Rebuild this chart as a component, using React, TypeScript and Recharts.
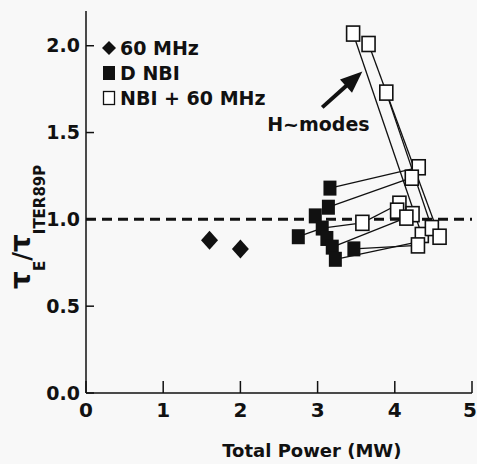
import { ComposedChart, XAxis, YAxis, Scatter, ReferenceLine, Legend } from 'recharts';

const FONT = "'DejaVu Sans', 'Liberation Sans', Arial, sans-serif";
const INK = '#111';
const PAPER = '#f8f8f8';

// 60 MHz only
const rfPower = [1.6, 2.0];
const rfTau = [0.88, 0.83];

// D NBI only
const nbiPower = [3.16, 3.14, 2.97, 2.75, 3.06, 3.12, 3.19, 3.23, 3.47];
const nbiTau = [1.18, 1.07, 1.02, 0.9, 0.95, 0.89, 0.84, 0.77, 0.83];

// NBI + 60 MHz
const comboPower = [3.46, 3.66, 3.89, 3.58, 4.31, 4.22, 4.06, 4.03, 4.23, 4.15, 4.35, 4.48, 4.58, 4.3];
const comboTau = [2.07, 2.01, 1.73, 0.98, 1.3, 1.24, 1.09, 1.05, 1.03, 1.01, 0.91, 0.95, 0.9, 0.85];

// lines joining a shot before / after the rf was added
const linkFromPower = [3.16, 3.14, 2.75, 3.06, 3.58, 3.19, 3.47, 3.23, 3.46, 3.66, 3.89];
const linkFromTau = [1.18, 1.07, 0.9, 0.95, 0.98, 0.84, 0.83, 0.77, 2.07, 2.01, 1.73];
const linkToPower = [4.31, 4.22, 3.06, 3.58, 4.06, 4.15, 4.3, 4.3, 4.35, 4.58, 4.48];
const linkToTau = [1.3, 1.24, 0.95, 0.98, 1.09, 1.01, 0.85, 0.87, 0.91, 0.9, 0.95];

const xTicks = [0, 1, 2, 3, 4, 5];
const yTicks = [0, 0.5, 1.0, 1.5, 2.0];

const legendLabels = ['60 MHz', 'D NBI', 'NBI + 60 MHz'];

// "H~modes" note and its arrow (tail -> tip)
const noteText = 'H~modes';
const notePower = 3.01;
const noteTau = 1.55;
const arrowPower = [3.06, 3.58];
const arrowTau = [1.645, 1.852];

const toPoints = (xs: number[], ys: number[]) => xs.map((x, i) => ({ x, y: ys[i] }));

const rfData = toPoints(rfPower, rfTau);
const nbiData = toPoints(nbiPower, nbiTau);
const comboData = toPoints(comboPower, comboTau);
const links = linkFromPower.map((x, i) => [
  { x, y: linkFromTau[i] },
  { x: linkToPower[i], y: linkToTau[i] },
]);

const Diamond = ({ cx, cy }: any) => (
  <polygon
    points={`${cx},${cy - 9.5} ${cx + 8.5},${cy} ${cx},${cy + 9.5} ${cx - 8.5},${cy}`}
    fill={INK}
  />
);

const FilledBox = ({ cx, cy }: any) => <rect x={cx - 6.5} y={cy - 7.5} width={13} height={15} fill={INK} />;

const OpenBox = ({ cx, cy }: any) => (
  <rect x={cx - 6.5} y={cy - 7.5} width={13} height={15} fill="#fff" stroke={INK} strokeWidth={1.6} />
);

const Arrow = ({ x1, y1, x2, y2 }: any) => {
  const dx = x2 - x1;
  const dy = y2 - y1;
  const len = Math.hypot(dx, dy);
  const ux = dx / len;
  const uy = dy / len;
  const head = 22;
  const half = 9;
  const bx = x2 - ux * head;
  const by = y2 - uy * head;
  return (
    <g>
      <line x1={x1} y1={y1} x2={bx + ux * 2} y2={by + uy * 2} stroke={INK} strokeWidth={4} />
      <polygon
        points={`${x2},${y2} ${bx - uy * half},${by + ux * half} ${bx + uy * half},${by - ux * half}`}
        fill={INK}
      />
    </g>
  );
};

// keep the last label ("5") inside the page edge
const XTick = ({ x, y, payload }: any) => (
  <text
    x={Math.min(x, 470)}
    y={y}
    dy="0.71em"
    textAnchor="middle"
    fill={INK}
    fontFamily={FONT}
    fontWeight="bold"
    fontSize={20}
  >
    {payload.value}
  </text>
);

const LegendIcon = ({ i }: { i: number }) => (
  <svg width={16} height={18} style={{ display: 'block' }}>
    {i === 0 && <polygon points="8,2 15,9 8,16 1,9" fill={INK} />}
    {i === 1 && <rect x={2} y={2} width={12} height={14} fill={INK} />}
    {i === 2 && <rect x={2.5} y={2.5} width={11} height={13} fill="#fff" stroke={INK} strokeWidth={1.3} />}
  </svg>
);

const renderLegend = () => (
  <div style={{ fontFamily: FONT, fontWeight: 'bold', fontSize: 19, color: INK }}>
    {legendLabels.map((label, i) => (
      <div key={label} style={{ display: 'flex', alignItems: 'center', height: 25 }}>
        <LegendIcon i={i} />
        <span style={{ marginLeft: 3 }}>{label}</span>
      </div>
    ))}
  </div>
);

const axisStyle = { stroke: INK, strokeWidth: 1.5 };

export default function App() {
  return (
    <div style={{ position: 'absolute', left: 0, top: 0, width: 477, height: 464, background: PAPER }}>
      <ComposedChart width={477} height={464} margin={{ top: 11, right: 5, bottom: 0, left: 0 }}>
        <XAxis
          type="number"
          dataKey="x"
          domain={[0, 5]}
          ticks={xTicks}
          height={71}
          tickSize={-12}
          tickMargin={22}
          axisLine={axisStyle}
          tickLine={axisStyle}
          tick={<XTick />}
          label={{
            content: ({ viewBox }: any) => (
              <text
                x={viewBox.x + viewBox.width * 0.585}
                y={viewBox.y + 64}
                textAnchor="middle"
                fill={INK}
                fontFamily={FONT}
                fontWeight="bold"
                fontSize={18}
              >
                Total Power (MW)
              </text>
            ),
          }}
        />
        <XAxis
          xAxisId="top"
          orientation="top"
          type="number"
          domain={[0, 5]}
          ticks={[1, 2, 3, 4]}
          height={0}
          mirror
          tickSize={14}
          tickFormatter={() => ''}
          axisLine={axisStyle}
          tickLine={axisStyle}
        />
        <YAxis
          type="number"
          dataKey="y"
          domain={[0, 2.2]}
          ticks={yTicks}
          width={86}
          tickSize={-8}
          tickMargin={14}
          axisLine={axisStyle}
          tickLine={axisStyle}
          tickFormatter={(v: number) => v.toFixed(1)}
          tick={{ fill: INK, fontFamily: FONT, fontWeight: 'bold', fontSize: 19 }}
          label={{
            content: ({ viewBox }: any) => {
              const cy = viewBox.y + viewBox.height * 0.565;
              return (
                <text
                  transform={`translate(30, ${cy}) rotate(-90)`}
                  textAnchor="middle"
                  fill={INK}
                  fontFamily={FONT}
                  fontWeight="bold"
                >
                  <tspan fontSize={28}>τ</tspan>
                  <tspan fontSize={15} dy={15}>E</tspan>
                  <tspan fontSize={24} dy={-15}>/</tspan>
                  <tspan fontSize={28}>τ</tspan>
                  <tspan fontSize={15} dy={15}>ITER89P</tspan>
                </text>
              );
            },
          }}
        />
        <YAxis
          yAxisId="right"
          orientation="right"
          type="number"
          domain={[0, 2.2]}
          ticks={[0.5, 1, 1.5, 2]}
          width={0}
          mirror
          tickSize={13}
          tickFormatter={() => ''}
          axisLine={{ stroke: INK, strokeWidth: 2 }}
          tickLine={axisStyle}
        />

        <ReferenceLine y={1} stroke={INK} strokeWidth={3} strokeDasharray="10 6" />

        {links.map((seg, i) => (
          <Scatter
            key={`link-${i}`}
            data={seg}
            line={{ stroke: INK, strokeWidth: 1.3 }}
            shape={() => <g />}
            legendType="none"
            isAnimationActive={false}
          />
        ))}

        <Scatter name="60 MHz" data={rfData} shape={Diamond} isAnimationActive={false} />
        <Scatter name="D NBI" data={nbiData} shape={FilledBox} isAnimationActive={false} />
        <Scatter name="NBI + 60 MHz" data={comboData} shape={OpenBox} isAnimationActive={false} />

        <ReferenceLine
          segment={[
            { x: arrowPower[0], y: arrowTau[0] },
            { x: arrowPower[1], y: arrowTau[1] },
          ]}
          shape={Arrow}
        />
        <ReferenceLine
          segment={[
            { x: notePower, y: noteTau },
            { x: notePower, y: noteTau },
          ]}
          stroke="none"
          label={{
            value: noteText,
            position: 'center',
            fill: INK,
            fontFamily: FONT,
            fontWeight: 'bold',
            fontSize: 19,
          }}
        />

        <Legend
          layout="horizontal"
          verticalAlign="middle"
          align="center"
          content={renderLegend}
          wrapperStyle={{ position: 'absolute', top: 35, left: 101, width: 'auto' }}
        />
      </ComposedChart>
    </div>
  );
}
